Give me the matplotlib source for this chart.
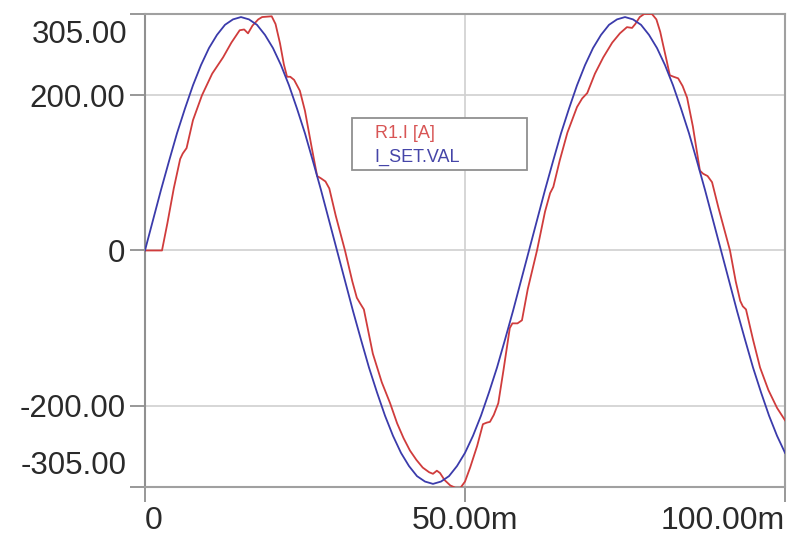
import matplotlib
matplotlib.use("Agg")
import matplotlib.pyplot as plt
from matplotlib.patches import Rectangle

plt.rcParams['font.family'] = ['Liberation Sans', 'DejaVu Sans']

# I_SET.VAL (blue), time in ms
t_set = [0, 1.25, 2.5, 3.75, 5, 6.25, 7.5, 8.75, 10, 11.25, 12.5, 13.75, 15,
         16.25, 17.5, 18.75, 20, 21.25, 22.5, 23.75, 25, 26.25, 27.5, 28.75, 30,
         31.25, 32.5, 33.75, 35, 36.25, 37.5, 38.75, 40, 41.25, 42.5, 43.75, 45,
         46.25, 47.5, 48.75, 50, 51.25, 52.5, 53.75, 55, 56.25, 57.5, 58.75, 60,
         61.25, 62.5, 63.75, 65, 66.25, 67.5, 68.75, 70, 71.25, 72.5, 73.75, 75,
         76.25, 77.5, 78.75, 80, 81.25, 82.5, 83.75, 85, 86.25, 87.5, 88.75, 90,
         91.25, 92.5, 93.75, 95, 96.25, 97.5, 98.75, 100]
i_set = [0, 39, 78, 115, 151, 183, 213, 239, 261, 278, 291, 298, 301,
         298, 291, 278, 261, 239, 213, 183, 151, 115, 78, 39, 0,
         -39, -78, -115, -151, -183, -213, -239, -261, -278, -291, -298, -301,
         -298, -291, -278, -261, -239, -213, -183, -151, -115, -78, -39, 0,
         39, 78, 115, 151, 183, 213, 239, 261, 278, 291, 298, 301,
         298, 291, 278, 261, 239, 213, 183, 151, 115, 78, 39, 0,
         -39, -78, -115, -151, -183, -213, -239, -261]

# R1.I [A] (red), time in ms
t_r1 = [0, 2.66, 3.5, 4.5, 5.5, 5.9, 6.5, 7.5, 8.9, 10.5, 12.2, 13.5, 14.8,
        15.5, 16.1, 16.8, 17.7, 18.3, 19.8, 20.4, 21.1, 21.7, 22.2, 22.7, 23.3,
        24.2, 25.0, 26.0, 26.9, 27.5, 28.2, 28.8, 29.8, 31.25, 32.4, 33.1, 33.6,
        34.2, 35.6, 37.0, 38.3, 39.4, 40.4, 41.4, 42.4, 43.4, 44.4, 45.0, 45.6,
        46.1, 46.8, 47.7, 48.5, 49.3, 50.0, 50.8, 51.9, 52.8, 53.4, 53.9, 54.5,
        55.2, 56.0, 57.0, 57.4, 58.2, 58.9, 59.8, 61.25, 62.5, 63.3, 63.8, 64.8,
        66.0, 67.5, 68.3, 69.1, 70.3, 71.6, 73.0, 74.2, 75.3, 76.1, 76.6, 77.3,
        78.0, 79.2, 79.9, 80.5, 80.9, 81.5, 82.0, 82.6, 83.3, 84.0, 84.7, 85.6,
        86.7, 87.2, 87.9, 88.6, 89.6, 91.4, 92.3, 93.0, 93.4, 93.9, 95.0, 96.1,
        97.4, 98.75, 100]
i_r1 = [0, 0, 35, 80, 118, 125, 132, 168, 200, 228, 249, 268, 284,
        285, 280, 290, 298, 301, 302, 292, 267, 240, 224, 224, 220,
        206, 180, 135, 96, 93, 89, 80, 45, 0, -40, -61, -68,
        -76, -133, -170, -197, -223, -242, -258, -270, -280, -286, -288, -284,
        -287, -296, -303, -306, -306, -298, -280, -252, -224, -222, -221, -212,
        -197, -155, -100, -94, -94, -90, -50, 0, 50, 74, 82, 116,
        152, 185, 196, 203, 228, 249, 268, 280, 288, 287, 292, 301,
        305, 305, 298, 282, 267, 245, 226, 224, 222, 212, 197, 160,
        103, 99, 96, 88, 55, 0, -40, -65, -72, -76, -115, -151,
        -180, -203, -219]

yticks = [-305, -200, 0, 200, 305]
ylabels = ['', '-200.00', '0', '200.00', '']
xticks = [0, 50, 100]
xlabels = ['0', '50.00m', '100.00m']

fig = plt.figure(figsize=(7.87, 5.39), dpi=100)
ax = fig.add_axes([0.1842, 0.0965, 0.8133, 0.8776])

ax.plot(t_r1, i_r1, color='#d03c3c', lw=1.3, zorder=3)
ax.plot(t_set, i_set, color='#3b3bab', lw=1.3, zorder=4)

ax.set_xlim(0, 100)
ax.set_ylim(-305, 305)
ax.set_yticks(yticks)
ax.set_yticklabels(ylabels)
ax.set_xticks(xticks)
ax.set_xticklabels(xlabels)

ax.grid(True, color='#d0d0d0', lw=1.2)
ax.set_axisbelow(True)
for s in ax.spines.values():
    s.set_color('#a0a0a0')
    s.set_linewidth(1.5)
ax.spines['left'].set_color('#909090')

ax.tick_params(axis='both', direction='out', length=11, width=1.3,
               color='#909090', labelcolor='#2a2a2a', labelsize=22.5, pad=3)
ax.tick_params(axis='x', labelsize=23)
xl = ax.get_xticklabels()
xl[0].set_ha('left')
xl[-1].set_ha('right')

# extreme y labels sit inside the range
ax.annotate('305.00', xy=(0, 305), xycoords=('axes fraction', 'data'),
            xytext=(-13, -15), textcoords='offset points', ha='right',
            va='center', fontsize=22.5, color='#2a2a2a')
ax.annotate('-305.00', xy=(0, -305), xycoords=('axes fraction', 'data'),
            xytext=(-13, 15), textcoords='offset points', ha='right',
            va='center', fontsize=22.5, color='#2a2a2a')

# legend box
ax.add_patch(Rectangle((0.3234, 0.670), 0.2734, 0.110, transform=ax.transAxes,
                       facecolor='white', edgecolor='#909090', lw=1.3,
                       zorder=5))
ax.text(0.359, 0.748, 'R1.I [A]', transform=ax.transAxes, color='#d85555',
        fontsize=13, va='center', ha='left', zorder=6)
ax.text(0.359, 0.697, 'I_SET.VAL', transform=ax.transAxes, color='#4545a8',
        fontsize=13, va='center', ha='left', zorder=6)

fig.savefig('out.png', dpi=100)
